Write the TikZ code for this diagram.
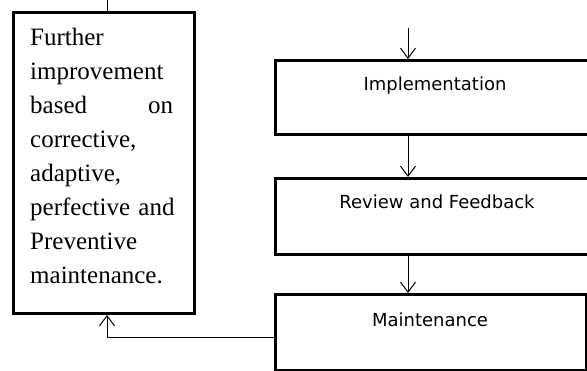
\documentclass[tikz,border=0pt]{standalone}
\usepackage{fontspec}
\setmainfont{Liberation Serif}
\newfontfamily\boxfont{DejaVu Sans}
\usetikzlibrary{arrows.meta}
\tikzset{
  stagebox/.style={draw=black, line width=2.6pt, fill=white, inner sep=0pt},
  stagetext/.style={font=\boxfont\fontsize{18}{22}\selectfont, inner sep=0pt, anchor=base},
  flow/.style={line width=1pt, -{Straight Barb[length=10pt,width=15pt,line width=1pt]}},
  plain/.style={line width=1pt}
}
\begin{document}
\begin{tikzpicture}[x=1pt,y=-1pt]
\path[use as bounding box, clip] (0,0) rectangle (587,371);
\fill[white] (0,0) rectangle (587,371);
% left box
\node[stagebox, draw, line width=3pt, minimum width=181pt, minimum height=301pt, anchor=north west] (further) at (12,11) {};
\node[anchor=north west, inner sep=0pt, text width=160pt, align=left,
      font=\fontsize{25}{34}\selectfont] (furthertext) at (30,28.2)
  {Further\\improvement\\\makebox[143pt][s]{based\hfill on}\\corrective,\\adaptive,\\\mbox{perfective and}\\Preventive\\maintenance.};
% right boxes
\node[stagebox, minimum width=322pt, minimum height=74pt, anchor=north west] (impl) at (274,59) {};
\node[stagetext] (impltext) at (435,91) {Implementation};
\node[stagebox, minimum width=322pt, minimum height=76pt, anchor=north west] (review) at (274,177) {};
\node[stagetext] (reviewtext) at (437,209) {Review and Feedback};
\node[stagebox, minimum width=311pt, minimum height=76pt, anchor=north west] (maint) at (274,293) {};
\node[stagetext] (mainttext) at (430,327) {Maintenance};
% connectors
\coordinate (topin) at (408,28);
\coordinate (topout) at (107,-2);
\coordinate (fbcorner) at (107,338);
\draw[flow] (topin) -- (topin |- impl.north);
\draw[flow] (topin |- impl.south) -- (topin |- review.north);
\draw[flow] (topin |- review.south) -- (topin |- maint.north);
\draw[flow] (maint.west |- fbcorner) -- (fbcorner) -- (further.south -| fbcorner);
\draw[plain] (further.north -| topout) -- (topout);
\end{tikzpicture}
\end{document}
